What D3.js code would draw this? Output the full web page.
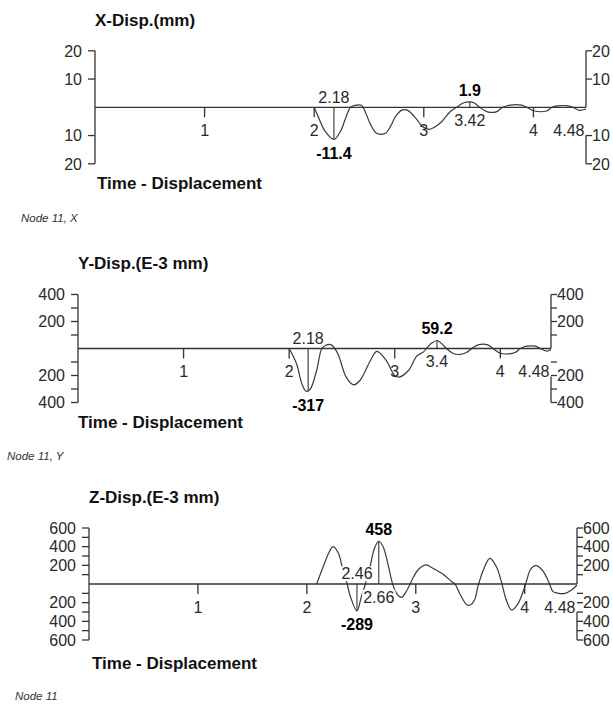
<!DOCTYPE html>
<html>
<head>
<meta charset="utf-8">
<script src="https://cdn.jsdelivr.net/npm/d3@7"></script>
<style>
  html, body { margin: 0; padding: 0; background: #fff; }
  svg { display: block; font-family: "Liberation Sans", Arial, sans-serif; }
</style>
</head>
<body>
<svg id="chart" width="613" height="704"></svg>
<script>
// ---------------- DATA ----------------
const timeTicks = [1, 2, 3, 4];
const endTime = 4.48;

// X displacement (mm)
const xTimes  = [2.00, 2.05, 2.10, 2.18, 2.24, 2.29, 2.33, 2.37, 2.43, 2.47, 2.51, 2.57, 2.65, 2.70, 2.74, 2.80, 2.85, 2.93, 2.98, 3.05, 3.10, 3.16, 3.24, 3.30, 3.36, 3.42, 3.46, 3.51, 3.58, 3.66, 3.72, 3.79, 3.89, 3.94, 4.01, 4.12, 4.17, 4.22, 4.32, 4.36, 4.42, 4.48];
const xValues = [0, -4.5, -8.5, -11.4, -8.5, -3.5, 0, 0.7, 0.7, -2, -5.7, -9.2, -9.2, -6.5, -3.4, -1, -1, -4, -6.5, -7.8, -7, -5.2, -1.6, 0, 1.5, 1.9, 1.5, 0, -1.6, -1.6, 0, 0.8, 0.8, 0, -1.3, -1.3, 0, 0.5, 0.5, 0, -1.1, -0.6];
const xPeakTimes  = [2.18, 3.42];
const xPeakValues = [-11.4, 1.9];
const xMajorTicks = [-20, -10, 10, 20];
const xMinorTicks = [];

// Y displacement (E-3 mm)
const yTimes  = [2.00, 2.07, 2.12, 2.16, 2.20, 2.26, 2.31, 2.35, 2.40, 2.46, 2.54, 2.61, 2.67, 2.77, 2.83, 2.92, 3.00, 3.04, 3.13, 3.21, 3.27, 3.30, 3.35, 3.40, 3.44, 3.49, 3.55, 3.62, 3.68, 3.73, 3.79, 3.88, 3.93, 4.00, 4.08, 4.14, 4.19, 4.25, 4.33, 4.38, 4.44, 4.48];
const yValues = [0, -113, -260, -317, -300, -163, 0, 25, 27, -37, -212, -269, -237, -89, -22, -89, -200, -212, -163, -55, -27, 0, 40, 59.2, 40, 0, -35, -44, -30, 0, 27, 27, 0, -35, -40, -30, 0, 17, 17, 0, -20, -8];
const yPeakTimes  = [2.18, 3.4];
const yPeakValues = [-317, 59.2];
const yMajorTicks = [-400, -200, 200, 400];
const yMinorTicks = [-300, -100, 100, 300];

// Z displacement (E-3 mm)
const zTimes  = [2.09, 2.15, 2.20, 2.24, 2.29, 2.32, 2.37, 2.40, 2.46, 2.50, 2.53, 2.58, 2.62, 2.66, 2.70, 2.75, 2.79, 2.83, 2.87, 2.92, 2.98, 3.02, 3.09, 3.14, 3.20, 3.26, 3.33, 3.36, 3.41, 3.47, 3.50, 3.54, 3.57, 3.62, 3.68, 3.74, 3.79, 3.83, 3.88, 3.94, 3.99, 4.02, 4.05, 4.10, 4.16, 4.22, 4.26, 4.31, 4.37, 4.43, 4.48];
const zValues = [0, 185, 329, 400, 329, 204, 0, -136, -289, -136, -29, 185, 380, 458, 400, 185, -11, -110, -143, -64, 78, 150, 204, 180, 140, 96, 25, 0, -118, -225, -225, -171, -29, 150, 275, 185, 7, -171, -279, -207, -64, 43, 150, 196, 150, 25, -82, -100, -100, -64, -11];
const zPeakTimes  = [2.46, 2.66];
const zPeakValues = [-289, 458];
const zMajorTicks = [-600, -400, -200, 200, 400, 600];
const zMinorTicks = [-500, -300, -100, 100, 300, 500];

// ---------------- DRAW ----------------
const svg = d3.select("#chart");

function labelWithBg(g, x, y, txt, opts) {
  const t = g.append("text")
    .attr("x", x).attr("y", y).attr("dy", "0.36em")
    .attr("text-anchor", opts.anchor || "middle")
    .attr("font-size", opts.size || 16)
    .attr("font-weight", opts.bold ? "bold" : "normal")
    .attr("fill", opts.color || "#2a2a2a")
    .text(txt);
  if (opts.bg !== false) {
    const bb = t.node().getBBox();
    g.insert("rect", function () { return t.node(); })
      .attr("x", bb.x - 1).attr("y", bb.y + 1)
      .attr("width", bb.width + 2).attr("height", bb.height - 2)
      .attr("fill", "#fff");
  }
  return t;
}

function panel(o) {
  const g = svg.append("g");
  const x = d3.scaleLinear().domain([0, endTime]).range([o.left, o.right]);
  const y = d3.scaleLinear().domain([-o.max, o.max]).range([o.zero + o.half, o.zero - o.half]);
  const y0 = y(0);
  const stroke = "#333";

  // titles
  g.append("text").attr("x", o.left).attr("y", o.titleY).attr("dy", "0.36em")
    .attr("font-size", 17).attr("font-weight", "bold").attr("fill", "#111").text(o.title);
  g.append("text").attr("x", o.footX).attr("y", o.footY).attr("dy", "0.36em")
    .attr("font-size", 17).attr("font-weight", "bold").attr("fill", "#111").text("Time - Displacement");
  g.append("text").attr("x", o.nodeX).attr("y", o.nodeY).attr("dy", "0.36em")
    .attr("font-size", 11.5).attr("font-style", "italic").attr("fill", "#333").text(o.node);

  // curve
  const line = d3.line().x(d => x(d[0])).y(d => y(d[1])).curve(d3.curveCatmullRom.alpha(0.5));
  const pts = o.times.map((t, i) => [t, o.values[i]]);
  g.append("path").datum(pts).attr("d", line)
    .attr("fill", "none").attr("stroke", "#3a3a3a").attr("stroke-width", 1.2);

  // x ticks
  timeTicks.forEach(t => {
    g.append("line").attr("x1", x(t)).attr("x2", x(t)).attr("y1", y0).attr("y2", y0 + 10)
      .attr("stroke", stroke).attr("stroke-width", 1.3);
    labelWithBg(g, x(t), y0 + 23, String(t), { bg: false });
  });
  labelWithBg(g, x(endTime) - 1.5, y0 + 23, String(endTime), { anchor: "end", bg: false });

  // annotations
  o.peakTimes.forEach((t, i) => {
    const v = o.peakValues[i];
    g.append("line").attr("x1", x(t)).attr("x2", x(t)).attr("y1", y0).attr("y2", y(v))
      .attr("stroke", "#444").attr("stroke-width", 1.2);
    if (v < 0) {
      labelWithBg(g, x(t), y0 - 10.5, String(t), {});
      labelWithBg(g, x(t), y(v) + 13.5, String(v), { bold: true, color: "#000" });
    } else {
      labelWithBg(g, x(t), y(v) - 12, String(v), { bold: true, color: "#000" });
      labelWithBg(g, x(t), y0 + 13, String(t), {});
    }
  });

  // zero line
  g.append("line").attr("x1", x(0)).attr("x2", x(endTime)).attr("y1", y0).attr("y2", y0)
    .attr("stroke", stroke).attr("stroke-width", 1.3);

  // left axis
  g.append("line").attr("x1", o.left).attr("x2", o.left).attr("y1", y(o.max)).attr("y2", y(-o.max))
    .attr("stroke", stroke).attr("stroke-width", 1.3);
  // right axis (top segment + lower segment)
  g.append("line").attr("x1", o.right).attr("x2", o.right).attr("y1", y(o.max)).attr("y2", y0)
    .attr("stroke", stroke).attr("stroke-width", 1.3);
  g.append("line").attr("x1", o.right).attr("x2", o.right).attr("y1", y0 + 28).attr("y2", y(-o.max))
    .attr("stroke", stroke).attr("stroke-width", 1.3);

  o.minor.concat(o.major).forEach(v => {
    g.append("line").attr("x1", o.left - 7).attr("x2", o.left).attr("y1", y(v)).attr("y2", y(v))
      .attr("stroke", stroke).attr("stroke-width", 1.3);
    g.append("line").attr("x1", o.right).attr("x2", o.right + 6).attr("y1", y(v)).attr("y2", y(v))
      .attr("stroke", stroke).attr("stroke-width", 1.3);
  });
  o.major.forEach(v => {
    g.append("text").attr("x", o.left - 13).attr("y", y(v)).attr("dy", "0.36em")
      .attr("text-anchor", "end").attr("font-size", 16).attr("fill", "#2a2a2a").text(Math.abs(v));
    g.append("text").attr("x", o.right + 6).attr("y", y(v)).attr("dy", "0.36em")
      .attr("text-anchor", "start").attr("font-size", 16).attr("fill", "#2a2a2a").text(Math.abs(v));
  });
}

panel({
  title: "X-Disp.(mm)", node: "Node 11, X",
  left: 95, right: 586, zero: 107.3, half: 56.5, max: 20,
  titleY: 20, footX: 97, footY: 183, nodeX: 21, nodeY: 218,
  times: xTimes, values: xValues, peakTimes: xPeakTimes, peakValues: xPeakValues,
  major: xMajorTicks, minor: xMinorTicks
});
panel({
  title: "Y-Disp.(E-3 mm)", node: "Node 11, Y",
  left: 78, right: 551, zero: 348.5, half: 54, max: 400,
  titleY: 263, footX: 78, footY: 422, nodeX: 7, nodeY: 456,
  times: yTimes, values: yValues, peakTimes: yPeakTimes, peakValues: yPeakValues,
  major: yMajorTicks, minor: yMinorTicks
});
panel({
  title: "Z-Disp.(E-3 mm)", node: "Node 11",
  left: 89, right: 577, zero: 584, half: 56, max: 600,
  titleY: 497, footX: 92, footY: 663, nodeX: 15, nodeY: 696,
  times: zTimes, values: zValues, peakTimes: zPeakTimes, peakValues: zPeakValues,
  major: zMajorTicks, minor: zMinorTicks
});
</script>
</body>
</html>
